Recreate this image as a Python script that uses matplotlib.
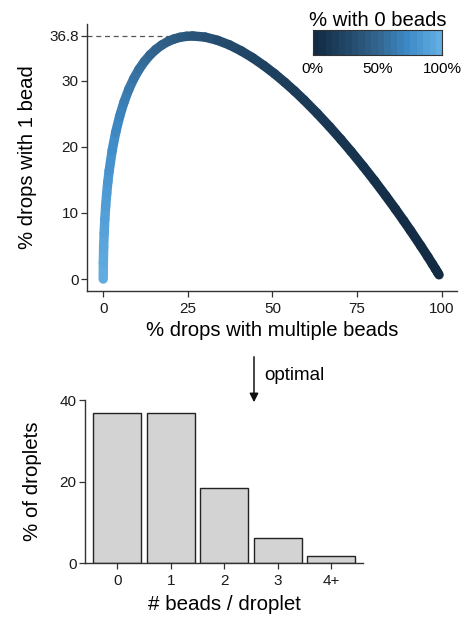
import matplotlib
matplotlib.use("Agg")
import matplotlib.pyplot as plt
import numpy as np
from matplotlib.colors import LinearSegmentedColormap

plt.rcParams['font.family'] = ['Liberation Sans', 'DejaVu Sans']

# points along the curve
multi_pct = [0.0, 0.03, 0.12, 0.27, 0.47, 0.72, 1.02, 1.36, 1.75, 2.65, 3.69, 4.87,
             6.16, 7.54, 9.02, 10.57, 12.19, 13.86, 15.58, 17.34, 19.12, 20.93, 22.75,
             24.59, 26.42, 30.10, 33.74, 37.32, 40.82, 44.22, 47.51, 50.68, 53.72,
             56.63, 59.40, 63.31, 66.91, 70.23, 73.26, 76.89, 80.09, 83.52, 86.41,
             88.83, 90.84, 93.89, 95.96, 97.34, 98.26, 98.87, 99.27]
one_pct = [0.0, 2.44, 4.76, 6.96, 9.05, 11.03, 12.91, 14.69, 16.37, 19.47, 22.22, 24.66,
           26.81, 28.69, 30.33, 31.73, 32.93, 33.93, 34.76, 35.43, 35.95, 36.33, 36.59,
           36.74, 36.79, 36.62, 36.14, 35.43, 34.52, 33.47, 32.30, 31.06, 29.75,
           28.42, 27.07, 25.04, 23.06, 21.14, 19.31, 17.03, 14.94, 12.60, 10.57,
           8.82, 7.33, 5.00, 3.37, 2.25, 1.49, 0.98, 0.64]
zero_pct = [100.0, 97.5, 95.1, 92.8, 90.5, 88.2, 86.1, 83.9, 81.9, 77.9, 74.1, 70.5,
            67.0, 63.8, 60.7, 57.7, 54.9, 52.2, 49.7, 47.2, 44.9, 42.7, 40.7,
            38.7, 36.8, 33.3, 30.1, 27.3, 24.7, 22.3, 20.2, 18.3, 16.5,
            15.0, 13.5, 11.6, 10.0, 8.6, 7.4, 6.1, 5.0, 3.9, 3.0,
            2.4, 1.8, 1.1, 0.67, 0.41, 0.25, 0.15, 0.09]

bar_labels = ['0', '1', '2', '3', '4+']
bar_values = [36.8, 36.8, 18.4, 6.1, 1.9]

cmap = LinearSegmentedColormap.from_list(
    'gg', [(0, '#132B43'), (0.5, '#32658F'), (0.75, '#3E8BC8'), (1, '#62AEE2')])
axcol = '#333333'

fig = plt.figure(figsize=(4.71, 6.22), dpi=100)

# top panel
ax = fig.add_axes([0.1847, 0.5326, 0.785, 0.4288])
for i in range(len(multi_pct) - 1):
    c = cmap((zero_pct[i] + zero_pct[i + 1]) / 200)
    ax.plot(multi_pct[i:i + 2], one_pct[i:i + 2], color=c, lw=6.8,
            solid_capstyle='round')
ax.plot([-4.8, 26.4], [36.8, 36.8], color='#555555', lw=0.9, ls=(0, (4, 3)), zorder=0)
ax.set_xlim(-4.8, 104.5)
ax.set_ylim(-1.77, 38.6)
ax.set_xticks([0, 25, 50, 75, 100])
ax.set_yticks([0, 10, 20, 30, 36.8])
ax.set_yticklabels(['0', '10', '20', '30', '36.8'])

# colour legend
cax = fig.add_axes([0.664, 0.9116, 0.2745, 0.0402])
cax.imshow(np.linspace(0, 1, 20).reshape(1, -1), cmap=cmap, aspect='auto',
           extent=[0, 100, 0, 1])
cax.set_yticks([])
cax.set_xticks([0, 50, 100])
cax.set_xticklabels(['0%', '50%', '100%'], fontsize=11)
cax.tick_params(axis='x', length=3, width=0.8, color='#555555', direction='in', pad=5)
for s in cax.spines.values():
    s.set_color(axcol)
    s.set_linewidth(0.8)
cax.set_title('% with 0 beads', fontsize=14.6, pad=2)

# bottom panel
bx = fig.add_axes([0.1805, 0.0944, 0.5909, 0.2625])
bx.bar(range(len(bar_values)), bar_values, width=0.9, color='#D3D3D3',
       edgecolor='#222222', linewidth=1.0)
bx.set_xlim(-0.6, 4.6)
bx.set_ylim(0, 40)
bx.set_xticks(range(len(bar_labels)))
bx.set_xticklabels(bar_labels)
bx.set_yticks([0, 20, 40])

for a in (ax, bx):
    for s in ['top', 'right']:
        a.spines[s].set_visible(False)
    for s in ['left', 'bottom']:
        a.spines[s].set_color(axcol)
        a.spines[s].set_linewidth(1.0)
    a.tick_params(length=4, width=0.9, color=axcol, labelsize=11,
                  labelcolor='#1a1a1a', pad=2)
    a.tick_params(axis='x', pad=4)

ax.set_xlabel('% drops with multiple beads', fontsize=14.6, labelpad=4)
ax.set_ylabel('% drops with 1 bead', fontsize=14.6, labelpad=8.5)
bx.set_xlabel('# beads / droplet', fontsize=14.8, labelpad=5)
bx.set_ylabel('% of droplets', fontsize=14.8, labelpad=12.5)

# arrow between panels
fig.patches.append(matplotlib.patches.FancyArrowPatch(
    (254 / 471, 1 - 354 / 622), (254 / 471, 1 - 405 / 622),
    transform=fig.transFigure, arrowstyle='-|>', mutation_scale=13,
    color='#111111', lw=1.1))
fig.text(264 / 471, 1 - 375 / 622, 'optimal', fontsize=13.5, va='center', ha='left')

fig.savefig('out.png', dpi=100)
